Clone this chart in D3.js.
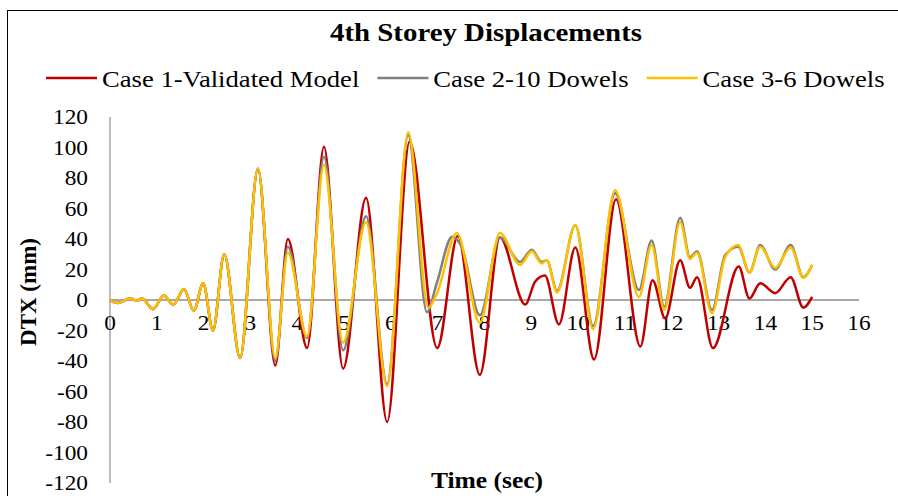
<!DOCTYPE html>
<html>
<head>
<meta charset="utf-8">
<script src="https://cdn.jsdelivr.net/npm/d3@7"></script>
<style>
  body { margin: 0; background: #fff; }
  text { font-family: "Liberation Serif", "Times New Roman", serif; fill: #000; }
</style>
</head>
<body>
<svg id="chart" width="898" height="496"></svg>
<script>
// values (time in sec, displacement in mm)
const seriesNames = ["Case 1-Validated Model", "Case 2-10 Dowels", "Case 3-6 Dowels"];

const case1Time = [0, 0.17, 0.43, 0.58, 0.68, 0.92, 1.15, 1.35, 1.58, 1.79, 1.99, 2.20, 2.44, 2.78, 3.16,
  3.53, 3.80, 4.21, 4.57, 4.98, 5.47, 5.92, 6.40, 6.99, 7.43, 7.90, 8.33, 8.87, 9.08, 9.29,
  9.59, 9.94, 10.34, 10.81, 11.33, 11.59, 11.86, 12.18, 12.39, 12.54, 12.88, 13.43, 13.66, 13.89,
  14.21, 14.54, 14.81, 15.0];
const case1Disp = [0, -2, 1, -0.5, 1, -6, 3, -3, 7, -7, 11, -20, 30, -38, 86,
  -43, 40, -31.5, 100.5, -45, 67, -80, 104, -31.5, 42, -49, 41, -3, 12, 16,
  -16, 34.5, -39, 66, -30.5, 13, -12, 26, 8, 15, -31.5, 22, 1, 11,
  4.5, 15, -5, 2];

const case2Time = [0, 0.17, 0.43, 0.58, 0.68, 0.92, 1.15, 1.35, 1.58, 1.79, 1.99, 2.20, 2.44, 2.78, 3.16,
  3.53, 3.80, 4.21, 4.57, 4.98, 5.47, 5.92, 6.37, 6.77, 6.98, 7.31, 7.51, 7.90, 8.33, 8.76,
  9.01, 9.22, 9.33, 9.55, 9.94, 10.32, 10.79, 11.30, 11.57, 11.84, 12.18, 12.39, 12.54, 12.86,
  13.14, 13.42, 13.66, 13.89, 14.21, 14.54, 14.81, 15.0];
const case2Disp = [0, -2, 1, -0.5, 1, -6, 3, -3, 7, -7, 11, -20, 30, -38, 86,
  -40, 35, -25, 94, -33, 55, -55, 108, -8, 11, 41.5, 35, -10, 41, 25,
  33, 25, 26, 6, 49, -17, 70, 6.5, 39, -4.5, 54, 28, 32, -6.5,
  29.5, 35, 18, 36, 20, 36, 15, 23];

const case3Time = [0, 0.17, 0.43, 0.58, 0.68, 0.92, 1.15, 1.35, 1.58, 1.79, 1.99, 2.20, 2.44, 2.78, 3.16,
  3.53, 3.80, 4.21, 4.57, 4.98, 5.47, 5.92, 6.37, 6.80, 6.98, 7.41, 7.90, 8.33, 8.76, 9.01,
  9.22, 9.33, 9.55, 9.94, 10.32, 10.79, 11.30, 11.57, 11.84, 12.18, 12.39, 12.54, 12.86, 13.14,
  13.42, 13.66, 13.89, 14.21, 14.54, 14.81, 15.0];
const case3Disp = [0, -2, 1, -0.5, 1, -6, 3, -3, 7, -7, 11, -20, 30, -38, 86,
  -38, 31, -24, 88.5, -28, 51, -56.5, 110, -5, 4, 44, -15, 44, 23, 32,
  24, 26, 5, 49, -19, 72, 2, 36, -6.5, 51, 27, 31, -8.7, 28,
  36, 18, 35, 21, 34.5, 14.5, 23];

const xTicks = d3.range(0, 17, 1);
const yTicks = d3.range(-120, 121, 20);
const colors = ["#C00000", "#7F7F7F", "#FFC000"];

const svg = d3.select("#chart");
const stretch = 1.11; // text in the picture is a bit wide

// outer frame
svg.append("rect").attr("x", 7.5).attr("y", 10.5).attr("width", 1000).attr("height", 600)
    .attr("fill", "none").attr("stroke", "#000").attr("stroke-width", 1);

const x = d3.scaleLinear().domain([0, 16]).range([110, 859]);
const y = d3.scaleLinear().domain([-120, 120]).range([483, 117]);

function addText(px, py, str, size, anchor, bold)
{
  return svg.append("text")
      .attr("transform", `translate(${px},${py}) scale(${stretch},1)`)
      .attr("text-anchor", anchor)
      .style("font-size", size + "px")
      .style("font-weight", bold ? "bold" : "normal")
      .text(str);
}

// axes lines
svg.append("line").attr("x1", x(0)).attr("x2", x(0)).attr("y1", y(120)).attr("y2", y(-120))
    .attr("stroke", "#A6A6A6").attr("stroke-width", 1.5);
svg.append("line").attr("x1", x(0)).attr("x2", x(16)).attr("y1", y(0)).attr("y2", y(0))
    .attr("stroke", "#8C8C8C").attr("stroke-width", 1.5);

// tick labels
yTicks.forEach(v => addText(88, y(v), v, 21, "end").attr("dominant-baseline", "central"));
xTicks.forEach(t => addText(x(t), 330, t, 21, "middle"));

// lines
const series = [
  case1Time.map((t, i) => [t, case1Disp[i]]),
  case2Time.map((t, i) => [t, case2Disp[i]]),
  case3Time.map((t, i) => [t, case3Disp[i]])
];
const line = d3.line().x(d => x(d[0])).y(d => y(d[1])).curve(d3.curveMonotoneX);
series.forEach((s, i) =>
{
  svg.append("path").datum(s).attr("d", line)
      .attr("fill", "none").attr("stroke", colors[i]).attr("stroke-width", 2.5);
});

// title and axis titles
addText(486, 41, "4th Storey Displacements", 26, "middle", true);
addText(487, 488, "Time (sec)", 23, "middle", true);
svg.append("text").attr("transform", "translate(36,292) rotate(-90)")
    .attr("text-anchor", "middle").style("font-size", "23px").style("font-weight", "bold")
    .text("DTX (mm)");

// legend
let lx = 46;
seriesNames.forEach((name, i) =>
{
  svg.append("line").attr("x1", lx).attr("x2", lx + 51).attr("y1", 78).attr("y2", 78)
      .attr("stroke", colors[i]).attr("stroke-width", 2.5);
  const t = addText(lx + 56, 87, name, 24, "start");
  lx += 56 + t.node().getComputedTextLength() * stretch + 18;
});
</script>
</body>
</html>
